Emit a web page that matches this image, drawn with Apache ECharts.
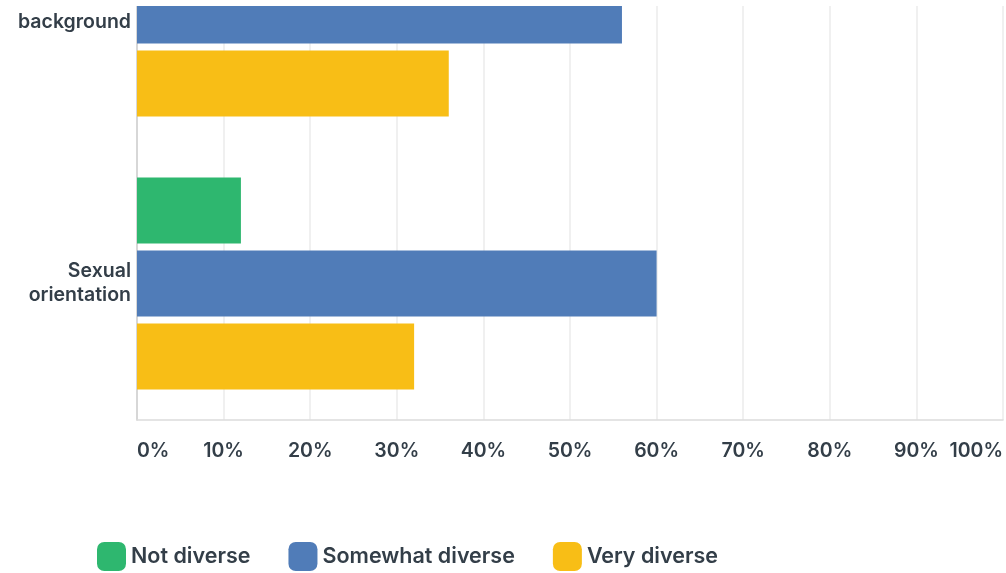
<!DOCTYPE html>
<html>
<head>
<meta charset="utf-8">
<script src="https://cdn.jsdelivr.net/npm/echarts@6/dist/echarts.min.js"></script>
<style>
  html, body { margin: 0; padding: 0; background: #fff; overflow: hidden; }
  #frame { position: relative; width: 1006px; height: 573px; overflow: hidden; }
  /* the plot scrolls: its first rows sit above the visible frame */
  #chart { position: absolute; left: 0; top: -126px; width: 1006px; height: 699px; }
</style>
</head>
<body>
<div id="frame"><div id="chart"></div></div>
<script>
// Survey answers, percent of respondents per characteristic
const categories = ['Ethnic\nbackground', 'Sexual\norientation'];
const seriesNames = ['Not diverse', 'Somewhat diverse', 'Very diverse'];
const notDiverse = [8, 12];
const somewhatDiverse = [56, 60];
const veryDiverse = [36, 32];
const tickValues = [0, 10, 20, 30, 40, 50, 60, 70, 80, 90, 100];

const colors = ['#2eb76f', '#507cb8', '#f8be16'];
const textColor = '#333e48';
const font = 'Inter, "Open Sans", sans-serif';
const scrollOffset = 126;   // rows hidden above the frame
const clipTop = 6;          // frame header strip

const chart = echarts.init(document.getElementById('chart'));

const seriesData = [notDiverse, somewhatDiverse, veryDiverse];

chart.setOption({
  animation: false,
  color: colors,
  textStyle: { fontFamily: font },
  grid: { left: 137, right: 3, top: 0, bottom: 153, containLabel: false },
  xAxis: {
    type: 'value',
    min: tickValues[0],
    max: tickValues[tickValues.length - 1],
    interval: 10,
    axisLine: { show: true, lineStyle: { color: '#dcdcdc', width: 1.5 } },
    axisTick: { show: false },
    splitLine: { show: true, lineStyle: { color: '#ebebeb', width: 1.5 } },
    axisLabel: {
      formatter: '{value}%',
      color: textColor,
      fontSize: 19.5,
      fontWeight: 600,
      fontFamily: font,
      margin: 21,
      alignMinLabel: 'left',
      alignMaxLabel: 'right'
    }
  },
  yAxis: {
    type: 'category',
    data: categories,
    inverse: true,
    axisLine: { show: true, lineStyle: { color: '#cfcfcf', width: 1.5 } },
    axisTick: { show: false },
    splitLine: { show: false },
    axisLabel: {
      color: textColor,
      fontSize: 19.5,
      fontWeight: 600,
      fontFamily: font,
      lineHeight: 24,
      margin: 6,
      align: 'right'
    }
  },
  legend: {
    data: seriesNames,
    bottom: 2,
    left: 97,
    padding: 0,
    itemWidth: 29,
    itemHeight: 29,
    itemGap: 38,
    icon: 'roundRect',
    textStyle: { color: textColor, fontSize: 21.5, fontWeight: 600, fontFamily: font }
  },
  graphic: [{
    type: 'rect',
    z: 100,
    shape: { x: 0, y: 0, width: 1006, height: scrollOffset + clipTop },
    style: { fill: '#fff' }
  }],
  series: seriesNames.map((name, i) => ({
    name: name,
    type: 'bar',
    data: seriesData[i],
    barWidth: 66,
    barGap: '10.6%'
  }))
});
</script>
</body>
</html>
